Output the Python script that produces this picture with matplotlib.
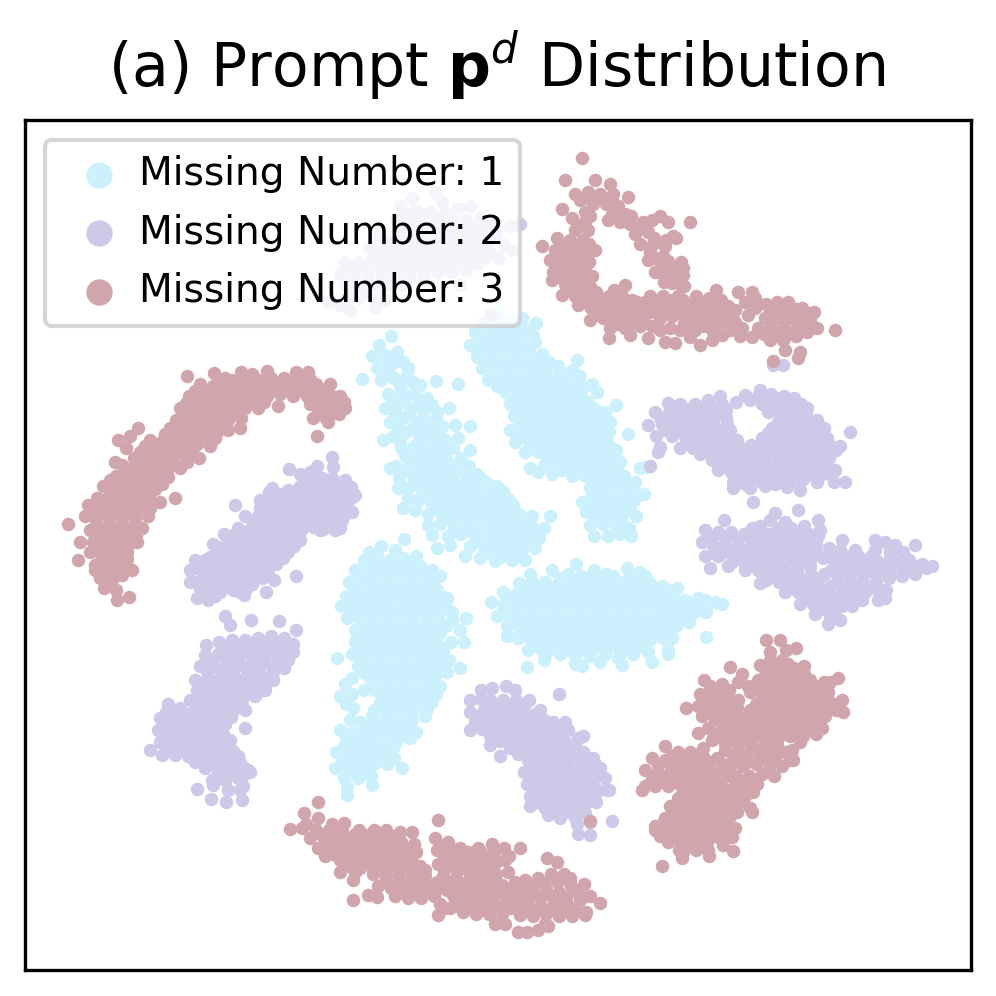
import matplotlib
matplotlib.use('Agg')
import numpy as np
import matplotlib.pyplot as plt

cyan_upper_left = [(391,336),(379,345),(372,356),(385,355),(397,352),(362,379),(377,368),(390,366),(403,362),(381,380),(394,378),(407,375),(420,385),
    (436,381),(458,384),(388,394),(401,390),(414,394),(427,398),(385,408),(398,404),(411,408),(424,410),(437,412),(449,408),(390,422),(403,418),(416,422),(429,424),(442,426),
    (393,436),(406,432),(419,436),(432,438),(445,440),(470,426),(401,448),(414,446),(427,450),(440,452),(453,448),(396,466),(409,460),(422,462),(435,464),(448,462),(461,458),
    (399,478),(412,474),(425,476),(438,478),(451,476),(464,472),(477,474),(408,488),(421,488),(434,490),(447,488),(460,486),(473,486),(486,482),(497,486),
    (418,500),(431,502),(444,500),(457,498),(470,498),(483,496),(496,496),(509,500),(428,514),(441,512),(454,510),(467,510),(480,508),(493,508),(506,510),(519,514),(532,516),(550,516),
    (440,524),(453,522),(466,522),(479,520),(492,520),(505,522),(518,524),(531,526),(544,528),(437,548),(448,536),(461,534),(474,534),(487,532),(500,534),(513,536),(526,538),(539,538),
    (470,546),(483,546),(496,546),(509,548),(522,550),(535,548),(499,558),(512,560),(525,560),
    (384,362),(396,361),(408,368),(386,372),(400,384),(413,382),(392,400),(405,397),(420,402),(432,405),(395,413),(409,414),(423,416),(436,419),(398,428),(412,429),(425,430),(438,432),(400,441),(420,443),(434,445),(447,447),(405,455),(418,454),(431,457),(444,456),(403,471),(416,468),(429,470),(442,470),(455,468),(469,466),(414,481),(428,483),(441,484),(454,482),(467,480),(480,478),(424,495),(437,496),(450,494),(463,492),(476,491),(490,490),(503,492),(434,507),(447,506),(460,504),(473,503),(486,502),(500,503),(513,505),(447,518),(460,516),(473,515),(486,514),(499,515),(512,517),(525,520),(454,529),(467,528),(480,526),(493,527),(506,528),(519,531),(532,532),(476,540),(490,539),(503,541),(516,543),(529,544),(490,552),(505,554),(518,555),
    (390,468),(403,508),(408,498),(415,510),(428,525),(432,535),(450,545),(465,556),(480,558),(495,561),(455,425),(458,438),(470,450),(383,440),(398,488)]
cyan_upper_right = [(498,310),(483,322),(496,320),(509,322),(522,318),(475,332),(488,332),(501,332),(514,332),(527,330),(536,323),(470,345),(483,344),(496,344),(509,344),(522,344),(535,342),
    (477,357),(490,356),(503,356),(516,356),(529,356),(542,354),(545,368),(482,368),(495,368),(508,368),(521,368),(534,368),(558,366),(577,360),(488,380),(501,380),(514,380),(527,380),(540,380),(553,380),(566,378),(580,376),
    (505,392),(518,392),(531,392),(544,392),(557,392),(570,392),(583,388),(592,384),(510,404),(523,404),(536,404),(549,404),(562,404),(575,404),(588,402),(597,392),
    (514,416),(527,416),(540,416),(553,416),(566,416),(579,416),(592,414),(605,412),(616,405),(510,430),(523,428),(536,428),(549,428),(562,428),(575,428),(588,428),(601,426),(610,422),(628,434),
    (515,442),(528,440),(541,440),(554,440),(567,440),(580,440),(593,440),(606,440),(525,452),(538,452),(551,452),(564,452),(577,452),(590,452),(603,452),(616,450),(545,464),(558,464),(571,464),(584,464),(597,464),(610,464),(620,462),(646,467),
    (530,468),(538,472),(552,474),(572,476),(585,476),(598,476),(611,476),(624,476),(640,468),(590,488),(603,488),(616,488),(629,488),(639,495),(582,502),(595,500),(608,500),(621,500),(634,500),(644,494),
    (586,512),(599,512),(612,512),(625,512),(636,516),(590,525),(603,524),(616,526),(629,528),(594,536),(608,536),(620,534),(631,536),
    (490,327),(503,326),(516,327),(480,338),(494,338),(507,338),(520,338),(533,336),(477,350),(490,350),(503,350),(516,350),(529,350),(484,362),(497,362),(510,362),(523,362),(536,362),(549,362),(494,374),(507,374),(520,374),(533,374),(546,374),(559,372),(572,370),(497,386),(510,386),(523,386),(536,386),(549,386),(562,386),(575,385),(516,398),(529,398),(542,398),(555,398),(568,398),(581,396),(516,410),(529,410),(542,410),(555,410),(568,410),(581,410),(594,408),(520,422),(533,422),(546,422),(559,422),(572,422),(585,421),(598,420),(518,435),(531,434),(544,434),(557,434),(570,434),(583,434),(596,434),(609,432),(531,446),(544,446),(557,446),(570,446),(583,446),(596,446),(609,446),(548,458),(561,458),(574,458),(587,458),(600,458),(613,456),(562,470),(578,470),(591,470),(604,470),(617,470),(596,482),(609,482),(622,482),(635,482),(592,494),(602,494),(615,494),(628,494),(593,506),(606,506),(618,506),(630,507),(596,518),(609,518),(621,520)]
cyan_center_left = [(404,539),(381,546),(395,550),(369,552),(364,560),(377,556),(390,560),(403,558),(416,556),(355,570),(368,568),(381,570),(394,570),(407,568),(420,566),(432,570),
    (349,582),(362,580),(375,582),(388,582),(401,580),(414,580),(427,580),(440,576),(346,596),(359,594),(372,594),(385,594),(398,594),(411,592),(424,592),(437,590),(447,598),
    (341,606),(354,606),(367,606),(380,606),(393,606),(406,604),(419,604),(432,604),(445,604),(347,618),(360,618),(373,618),(386,618),(399,618),(412,618),(425,616),(438,616),(452,612),(337,658),
    (355,630),(368,630),(381,630),(394,630),(407,630),(420,630),(433,628),(446,626),(466,618),(355,642),(368,642),(381,642),(394,642),(407,642),(420,642),(433,640),(460,630),
    (352,654),(365,654),(378,654),(391,654),(404,654),(417,654),(430,652),(443,650),(464,642),(358,666),(371,666),(384,666),(397,666),(410,666),(423,664),(436,664),(449,660),(460,668),
    (345,684),(352,678),(370,678),(383,678),(396,678),(409,678),(422,678),(435,676),(447,672),(340,696),(352,694),(375,690),(388,690),(401,690),(414,690),(427,690),(440,686),(353,708),(380,702),(393,702),(406,702),(419,702),(432,702),(425,716),
    (372,716),(385,714),(398,714),(411,714),(350,720),(340,730),(352,733),(366,728),(379,728),(392,726),(405,726),(416,732),(345,745),(358,742),(371,740),(384,740),(397,740),(410,738),(336,752),(349,756),(362,754),(375,752),(388,752),
    (335,768),(348,768),(361,766),(374,764),(387,764),(402,768),(344,778),(358,778),(371,776),(365,773),(347,787),(347,795),(372,785),
    (372,562),(385,564),(398,564),(411,562),(360,575),(374,575),(387,576),(400,574),(413,574),(426,574),(354,588),(368,588),(381,588),(394,588),(407,586),(420,586),(433,584),(352,600),(365,600),(378,600),(391,600),(404,598),(417,598),(430,598),(443,597),(350,612),(363,612),(376,612),(389,612),(402,611),(415,611),(428,610),(441,610),(361,624),(374,624),(387,624),(400,624),(413,624),(426,622),(439,622),(452,620),(362,636),(375,636),(388,636),(401,636),(414,636),(427,634),(440,633),(360,648),(373,648),(386,648),(399,648),(412,648),(425,646),(438,645),(451,642),(364,660),(377,660),(390,660),(403,660),(416,660),(429,658),(442,656),(364,672),(377,672),(390,672),(403,672),(416,672),(429,670),(442,668),(376,684),(389,684),(402,684),(415,684),(428,684),(364,690),(384,696),(397,696),(410,696),(423,696),(436,694),(346,704),(374,710),(388,708),(401,708),(414,708),(427,709),(360,722),(373,722),(386,720),(399,720),(412,720),(346,738),(359,735),(372,734),(385,733),(398,733),(411,731),(342,760),(355,749),(368,747),(381,746),(394,746),(355,760),(368,760),(381,758),(394,758),(352,773),(364,770)]
cyan_right = [(576,564),(552,570),(568,574),(581,576),(594,570),(606,574),(627,568),(640,572),(530,574),(519,583),(532,582),(545,582),(558,584),(571,586),(584,586),(597,584),(610,582),(623,582),(636,582),(649,582),(662,586),(677,588),
    (503,592),(516,594),(529,594),(542,594),(555,594),(568,596),(581,598),(594,596),(607,596),(620,594),(633,594),(646,594),(659,594),(672,594),(685,600),(698,598),
    (491,602),(504,604),(517,606),(530,606),(543,606),(556,606),(569,608),(582,608),(595,608),(608,606),(621,606),(634,606),(647,606),(660,606),(673,606),(686,608),(699,606),(715,602),(722,604),
    (497,616),(510,616),(523,618),(536,618),(549,618),(562,618),(575,620),(588,620),(601,618),(614,618),(627,618),(640,618),(653,618),(666,616),(679,616),(692,614),(706,612),
    (507,626),(520,630),(533,630),(546,630),(559,630),(572,632),(585,632),(598,630),(611,630),(624,630),(637,630),(650,628),(663,628),(676,626),(689,622),(706,637),
    (507,636),(518,638),(533,642),(546,642),(559,642),(572,644),(585,644),(598,642),(611,642),(624,642),(637,642),(650,640),(663,638),(672,638),
    (528,650),(545,654),(560,654),(575,656),(590,656),(605,654),(620,654),(633,654),(648,652),(668,650),(527,667),(544,660),(575,664),(582,666),(600,662),(622,665),(618,658),(652,662),(668,654),
    (560,578),(575,580),(588,578),(600,578),(613,576),(630,576),(645,576),(525,588),(538,588),(551,588),(564,590),(577,592),(590,590),(603,590),(616,588),(629,588),(642,588),(655,588),(668,590),(510,599),(523,600),(536,600),(549,600),(562,600),(575,602),(588,602),(601,602),(614,600),(627,600),(640,600),(653,600),(666,600),(679,602),(692,602),(705,600),(503,610),(516,611),(529,612),(542,612),(555,612),(568,614),(581,614),(594,614),(607,612),(620,612),(633,612),(646,612),(659,612),(672,611),(685,612),(698,610),(514,623),(527,624),(540,624),(553,624),(566,626),(579,626),(592,625),(605,624),(618,624),(631,624),(644,624),(657,623),(670,622),(683,620),(526,636),(539,636),(552,636),(565,638),(578,638),(591,637),(604,636),(617,636),(630,636),(643,635),(656,634),(669,632),(540,648),(553,648),(566,650),(579,650),(592,650),(605,648),(618,648),(631,648),(644,647)]

purple_hidden = [(435,192),(412,198),(442,202),(400,206),(416,210),(430,212),(445,214),(458,208),(470,206),(396,220),(410,222),(424,224),(438,224),(452,222),(466,220),(480,218),(494,224),
    (380,236),(398,234),(412,236),(426,236),(440,236),(454,234),(468,232),(482,232),(496,234),(510,226),(370,248),(384,248),(398,248),(412,248),(426,248),(440,246),(454,246),(468,246),(482,246),(504,245),(520,224),
    (345,262),(358,262),(372,260),(386,260),(400,260),(414,260),(428,260),(442,258),(456,258),(470,258),(484,258),(498,258),(512,250),
    (340,274),(354,274),(368,274),(382,272),(396,272),(410,272),(424,272),(438,272),(452,272),(466,270),(346,286),(360,286),(374,286),(388,284),(402,284),(460,285),(345,298),(358,298),(372,296),(350,286),(328,302),(340,305),(350,310),(375,308),(385,300),(490,315),
    (405,214),(420,216),(436,218),(452,215),(403,228),(417,230),(431,230),(445,229),(459,227),(473,226),(487,226),(390,242),(405,242),(419,242),(433,242),(447,240),(461,240),(475,239),(489,240),(377,254),(391,254),(405,254),(419,254),(433,253),(447,252),(461,252),(475,252),(489,252),(351,268),(365,267),(379,266),(393,266),(407,266),(421,266),(435,265),(449,265),(463,264),(477,264),(353,280),(367,280),(381,279),(395,278),(409,278),(423,278),(352,292),(366,292),(380,290)]
purple_upper_right = [(773,365),(760,390),(720,396),(745,395),(758,396),(771,394),(784,396),(708,400),(722,404),(736,402),(762,404),(775,404),(788,404),(801,404),(668,403),(680,404),(695,404),
    (655,412),(668,414),(681,414),(694,414),(707,414),(720,414),(780,416),(793,416),(806,414),(648,425),(662,424),(675,424),(688,424),(701,426),(714,426),(727,424),(772,428),(785,428),(798,426),(811,426),(824,428),
    (656,436),(672,436),(685,436),(698,436),(711,436),(724,436),(737,440),(762,438),(775,438),(788,438),(801,438),(814,438),(827,438),(850,432),(660,447),(680,448),(693,448),(706,448),(719,448),(732,450),(745,450),(758,450),(771,450),(784,450),(797,450),(810,450),(823,450),(836,450),(650,466),(658,452),
    (712,460),(725,460),(738,460),(751,460),(764,460),(777,462),(790,462),(803,462),(816,462),(829,458),(840,446),(718,470),(731,472),(744,472),(757,472),(770,472),(783,474),(796,474),(809,474),(822,474),(835,470),(845,482),(834,482),
    (733,482),(745,484),(762,482),(775,484),(788,484),(817,482),(830,474),(733,488),(750,488),(765,486),(787,487),(800,490),(800,480),
    (750,400),(768,400),(781,398),(794,398),(674,409),(687,409),(700,408),(713,408),(726,410),(768,412),(781,410),(794,410),(807,408),(661,419),(674,419),(687,419),(700,420),(713,420),(726,418),(778,422),(791,422),(804,420),(817,420),(665,430),(678,430),(691,430),(704,431),(717,431),(730,430),(768,433),(781,433),(794,432),(807,432),(820,432),(686,442),(699,442),(712,442),(725,443),(738,445),(751,445),(764,444),(777,444),(790,444),(803,444),(816,444),(829,444),(700,454),(713,454),(726,454),(739,455),(752,455),(765,455),(778,456),(791,456),(804,456),(817,456),(830,454),(722,465),(735,466),(748,466),(761,466),(774,467),(787,468),(800,468),(813,468),(826,466),(738,477),(751,478),(764,478),(777,479),(790,479),(803,479),(816,478)]
purple_lower_right = [(753,502),(775,513),(724,520),(798,510),(818,520),(752,528),(770,520),(785,522),(705,530),(718,532),(731,532),(744,534),(757,534),(770,534),(783,534),(796,534),(809,534),(820,530),(702,542),(712,544),(725,544),(738,546),(751,546),(764,546),(777,546),(790,546),(803,546),(816,544),(818,536),
    (705,556),(718,556),(725,552),(738,558),(751,558),(764,558),(777,558),(790,558),(803,558),(816,552),(829,548),(842,540),(875,540),(710,568),(728,566),(745,570),(758,570),(771,570),(784,570),(797,570),(810,566),(832,558),(845,556),(858,556),(871,556),(885,542),(895,545),(915,545),
    (766,580),(779,582),(792,582),(805,580),(818,580),(831,570),(844,568),(857,568),(870,568),(883,566),(896,562),(909,560),(922,564),(932,566),(785,592),(798,592),(811,592),(824,592),(837,582),(850,580),(863,582),(876,582),(889,578),(902,576),(915,574),(926,568),
    (800,604),(813,604),(826,604),(839,596),(852,594),(865,592),(878,590),(886,590),(815,614),(830,616),(842,606),(852,606),(828,624),(840,620),(775,548),(763,575),(878,600),(885,598),(862,600),(760,583),
    (760,526),(778,528),(791,528),(804,526),(712,537),(725,538),(738,539),(751,540),(764,540),(777,540),(790,540),(803,540),(816,538),(715,550),(731,552),(744,552),(757,552),(770,552),(783,552),(796,552),(809,552),(840,550),(855,550),(875,550),(890,552),(903,552),(732,562),(745,564),(758,564),(771,564),(784,564),(797,564),(810,560),(823,558),(838,562),(851,562),(864,562),(877,561),(890,558),(903,568),(916,567),(772,576),(785,576),(798,576),(811,574),(824,574),(837,575),(850,574),(863,575),(876,575),(889,572),(902,569),(791,587),(804,586),(817,586),(830,586),(843,588),(856,588),(869,588),(806,598),(819,598),(832,598),(845,600),(858,598),(820,609),(835,609)]
purple_left_upper = [(332,457),(333,467),(289,469),(300,474),(310,472),(317,466),(322,478),(288,490),(300,486),(313,484),(326,484),(338,486),(351,487),(355,495),(269,492),(272,488),(260,500),(273,502),(286,500),(299,498),(312,498),(325,498),(338,498),(351,498),(235,505),
    (260,508),(245,516),(258,516),(271,514),(284,512),(297,510),(310,510),(323,510),(336,510),(349,510),(238,528),(251,528),(264,526),(277,524),(290,522),(303,522),(316,522),(329,520),(342,520),(352,512),(224,534),(229,540),(242,540),(255,538),(268,536),(281,536),(294,534),(320,530),(335,530),(323,529),(340,528),
    (213,544),(216,553),(229,552),(242,552),(255,550),(268,548),(281,548),(294,546),(296,530),(301,530),(195,560),(205,560),(218,564),(231,564),(244,562),(257,560),(270,560),(283,558),(296,576),
    (190,570),(190,582),(203,576),(216,576),(229,574),(242,574),(255,572),(268,570),(200,588),(213,588),(226,586),(239,584),(252,584),(274,580),(262,578),(197,598),(208,600),(215,596),(240,592),(266,592),(244,595),
    (306,480),(319,478),(332,478),(345,480),(280,494),(293,492),(306,492),(319,491),(332,491),(345,492),(266,507),(279,507),(292,505),(305,504),(318,504),(331,504),(344,504),(253,522),(266,520),(279,518),(292,516),(305,516),(318,516),(331,515),(344,515),(235,534),(248,534),(261,532),(274,530),(287,528),(300,528),(313,527),(326,526),(222,547),(235,546),(248,545),(261,543),(274,542),(287,541),(300,540),(210,557),(223,558),(236,557),(249,556),(262,554),(275,553),(288,552),(198,568),(211,570),(224,569),(237,568),(250,566),(263,565),(276,564),(197,582),(210,582),(223,580),(236,579),(249,578),(207,593),(220,592),(233,590),(246,589)]
purple_left_lower = [(225,616),(230,625),(251,620),(279,621),(296,630),(206,645),(219,642),(232,640),(245,640),(258,638),(271,636),(284,638),(205,655),(218,654),(231,652),(244,652),(257,650),(270,650),(283,650),(293,652),(293,644),
    (200,666),(213,666),(226,664),(239,664),(252,662),(265,662),(278,660),(288,660),(195,680),(208,678),(221,676),(234,676),(247,674),(260,674),(273,672),(284,668),(197,690),(210,690),(223,688),(236,688),(249,686),(262,684),(273,680),(190,700),(203,700),(216,700),(229,700),(242,700),(255,696),(265,690),
    (168,704),(180,708),(193,712),(206,712),(219,712),(232,712),(245,710),(160,718),(173,718),(186,720),(199,722),(212,722),(225,722),(245,728),(225,724),(158,730),(171,730),(184,732),(197,734),(210,734),(223,734),(150,750),(160,742),(173,742),(186,744),(199,746),(212,746),(225,746),
    (162,755),(175,755),(188,756),(201,758),(214,758),(227,756),(238,756),(248,770),(240,762),(205,768),(218,768),(231,768),(244,768),(212,780),(225,780),(238,778),(250,772),(213,785),(228,790),(197,789),(240,790),(242,800),(211,799),(226,802),(243,786),
    (226,646),(239,646),(252,645),(265,644),(278,644),(212,660),(225,658),(238,658),(251,656),(264,656),(277,655),(207,672),(220,670),(233,670),(246,668),(259,668),(272,666),(202,685),(215,684),(228,682),(241,681),(254,680),(267,678),(208,696),(221,695),(234,694),(247,693),(260,690),(186,714),(199,706),(212,706),(225,706),(238,706),(166,712),(179,712),(192,716),(205,717),(218,717),(231,717),(166,725),(179,725),(192,727),(205,728),(218,728),(165,737),(178,738),(191,739),(204,740),(217,740),(230,740),(168,749),(181,750),(194,751),(207,752),(220,752),(233,751),(195,762),(211,763),(224,763),(237,763),(218,774),(231,774),(244,774)]
purple_bottom = [(481,690),(492,688),(506,686),(515,690),(540,710),(481,699),(470,700),(490,700),(503,700),(516,700),(529,700),(470,712),(483,712),(496,712),(509,712),(522,712),(535,714),(559,694),
    (475,722),(488,724),(501,724),(514,724),(527,724),(540,726),(553,722),(565,722),(470,730),(490,736),(503,736),(516,736),(529,736),(542,738),(555,736),(568,730),(490,745),(510,748),(523,748),(536,750),(549,750),(562,748),(575,744),(583,736),
    (500,756),(528,760),(541,762),(554,762),(567,760),(580,758),(593,758),(524,772),(537,774),(550,774),(563,772),(576,770),(589,770),(600,768),(527,784),(540,786),(553,786),(566,784),(579,782),(592,782),(605,778),(609,790),(598,790),
    (530,796),(543,798),(556,798),(569,796),(582,794),(595,794),(607,790),(530,806),(545,808),(558,808),(571,806),(584,806),(596,802),(548,815),(560,818),(575,818),(590,822),(577,824),(578,834),(590,835),(585,813),(564,810),
    (485,706),(498,706),(511,706),(524,706),(479,717),(492,718),(505,718),(518,718),(531,718),(544,720),(482,729),(495,730),(508,730),(521,730),(534,730),(547,732),(560,729),(500,741),(513,742),(526,742),(539,744),(552,744),(565,742),(578,738),(518,754),(531,755),(544,756),(557,756),(570,754),(583,752),(530,767),(543,768),(556,768),(569,766),(582,764),(595,764),(532,779),(545,780),(558,780),(571,778),(584,776),(597,776),(534,791),(547,792),(560,792),(573,790),(586,788),(538,802),(551,803),(564,802),(577,800),(590,800),(555,812),(570,812),(583,812)]

pink_top_right = [(582,158),(565,180),(595,180),(610,184),(588,192),(575,194),(600,194),(613,194),(628,197),(580,200),(593,204),(606,204),(618,206),(585,212),(612,214),(625,214),(562,209),(630,224),(643,222),
    (572,218),(585,222),(575,230),(588,230),(608,220),(620,222),(635,234),(648,232),(660,216),(652,220),(557,238),(570,240),(583,240),(640,244),(653,244),(665,246),(555,250),(568,252),(581,252),(594,250),(650,252),(663,256),(676,238),(668,222),(690,222),(673,236),
    (550,260),(563,262),(576,262),(589,262),(595,250),(648,260),(661,266),(672,268),(542,246),(553,272),(566,272),(579,274),(592,276),(655,272),(668,278),(681,262),(683,268),(552,280),(565,284),(578,286),(591,288),(664,282),(683,275),(684,286),(665,268),
    (562,295),(575,296),(588,298),(601,298),(614,290),(625,285),(632,300),(650,296),(663,296),(678,296),(696,296),(716,290),(682,286),(578,305),(591,308),(604,308),(617,308),(630,308),(643,308),(656,304),(669,306),(682,306),(695,306),(708,304),(721,300),(738,292),(752,292),
    (590,320),(603,318),(616,320),(629,318),(642,318),(672,316),(685,318),(698,318),(711,314),(724,312),(755,308),(766,304),(777,302),(788,302),(802,308),(814,312),(610,328),(625,328),(640,326),(652,326),(690,326),(704,326),(720,322),(765,318),(778,316),(791,316),(804,318),(817,328),
    (609,338),(648,338),(665,342),(680,330),(695,330),(712,330),(740,336),(758,328),(771,328),(784,328),(797,328),(810,322),(835,330),(690,337),(675,343),(752,337),(770,340),(783,340),(796,336),(807,332),(785,350),(800,352),(798,358),(773,361),
    (588,198),(600,199),(612,200),(578,225),(590,216),(618,214),(631,216),(642,228),(564,246),(576,246),(589,244),(654,238),(666,240),(558,256),(570,257),(583,257),(655,258),(668,261),(559,267),(572,267),(585,268),(660,272),(672,276),(558,276),(571,279),(584,281),(672,283),(570,290),(583,291),(596,292),(609,296),(622,296),(645,302),(657,301),(670,300),(683,300),(696,300),(709,298),(585,302),(598,303),(611,302),(624,302),(637,302),(598,313),(611,314),(624,313),(637,313),(650,312),(663,311),(676,311),(689,312),(702,311),(715,310),(728,306),(770,310),(783,309),(796,309),(809,313),(618,324),(631,323),(644,322),(684,323),(697,323),(710,321),(771,322),(784,322),(797,322),(810,318),(764,334),(777,334),(790,334),(803,328),
    (725,318),(735,310),(745,302),(748,315),(735,322),(742,328),(755,298),(730,330),(722,335),(712,340),(700,345),(660,330),(670,328),(630,335),(660,318)]
pink_left_arc = [(214,373),(187,376),(241,372),(252,374),(267,371),(296,372),(308,372),(225,378),(200,384),(213,386),(226,388),(239,384),(252,386),(265,384),(278,384),(291,384),(304,384),(316,384),(330,384),(189,396),(202,398),(215,398),(228,398),(241,396),(254,396),(267,396),(280,394),(293,396),(307,396),(318,396),(332,396),(340,396),
    (180,408),(193,410),(206,410),(219,410),(232,408),(245,408),(258,408),(278,406),(310,404),(320,408),(333,408),(345,408),(176,420),(189,422),(202,422),(215,420),(228,420),(241,418),(313,418),(326,418),(339,414),(317,436),(328,422),(138,428),(165,434),(178,434),(191,434),(204,434),(217,432),(228,430),(240,428),
    (118,440),(130,436),(145,446),(158,446),(171,446),(184,446),(197,444),(210,446),(126,448),(134,458),(147,458),(160,458),(173,458),(186,456),(199,458),(115,462),(128,470),(141,470),(154,470),(167,470),(180,468),(155,465),(110,480),(123,482),(136,482),(149,482),(162,484),(175,498),(103,486),
    (97,498),(110,494),(123,494),(136,494),(149,496),(160,502),(150,508),(88,505),(100,506),(113,506),(126,506),(139,506),(85,516),(96,518),(109,518),(122,518),(135,518),(148,516),(90,530),(103,530),(116,530),(129,530),(142,528),(137,542),(68,524),(80,542),(93,542),(106,542),(119,542),(132,542),
    (90,552),(103,554),(116,554),(127,552),(95,565),(108,566),(121,564),(132,570),(128,568),(100,578),(113,578),(122,575),(104,588),(116,590),(129,597),(117,600),(95,570),(78,560),
    (219,380),(232,380),(245,380),(258,380),(271,378),(284,378),(297,378),(310,379),(323,390),(195,391),(208,392),(221,392),(234,391),(247,391),(260,391),(273,390),(286,390),(299,390),(312,390),(186,403),(199,404),(212,404),(225,404),(238,402),(251,402),(264,402),(315,402),(328,402),(341,402),(183,415),(196,416),(209,416),(222,415),(235,414),(318,413),(331,413),(344,402),(170,428),(183,428),(196,428),(209,427),(222,426),(150,440),(163,440),(176,440),(189,440),(202,439),(215,438),(140,452),(153,452),(166,452),(179,452),(192,451),(122,465),(135,464),(148,464),(161,464),(174,463),(187,462),(116,476),(129,476),(142,476),(155,476),(168,477),(116,488),(129,488),(142,488),(155,489),(103,500),(116,500),(129,500),(142,500),(94,511),(107,512),(120,512),(133,512),(146,511),(96,524),(109,524),(122,524),(135,524),(97,536),(110,536),(123,536),(136,535),(96,548),(109,548),(122,548),(101,560),(114,560),(127,559),(106,572),(119,571),(110,584)]
pink_bottom = [(318,802),(304,813),(290,829),(306,824),(318,818),(332,824),(302,828),(344,823),(359,830),(374,830),(386,830),(400,832),(412,832),(310,838),(323,836),(336,836),(349,838),(362,840),(375,840),(388,840),(401,842),(414,844),(438,820),
    (318,848),(331,848),(344,848),(357,850),(370,852),(383,852),(396,852),(409,854),(435,838),(448,842),(460,848),(478,848),(492,844),(325,856),(340,860),(353,862),(366,864),(379,864),(392,864),(405,866),(420,866),(437,850),(450,852),(463,858),(476,856),(489,858),(504,848),(520,848),
    (340,872),(355,872),(373,874),(386,876),(399,876),(412,876),(425,876),(438,864),(451,864),(464,868),(477,868),(490,868),(505,860),(353,880),(378,886),(391,888),(404,888),(417,888),(430,888),(443,876),(456,878),(469,880),(482,880),(495,880),(508,872),(547,858),(557,862),(570,878),
    (353,900),(368,895),(377,897),(395,896),(408,898),(421,898),(434,896),(447,890),(460,890),(473,892),(486,892),(499,890),(512,890),(525,880),(538,878),(551,874),(564,874),(420,884),(440,904),(455,900),(468,902),(481,904),(494,904),(507,902),(520,892),(533,892),(546,890),(559,892),(572,888),(584,884),
    (438,915),(450,908),(463,912),(476,914),(489,914),(502,914),(515,904),(528,904),(541,906),(554,904),(567,904),(580,900),(600,903),(590,896),(495,924),(505,924),(520,915),(533,916),(546,914),(559,916),(572,916),(586,912),(538,930),(518,932),(527,932),(545,924),(548,926),(585,915),
    (316,830),(329,830),(342,830),(355,834),(368,835),(381,835),(394,836),(325,842),(338,842),(351,844),(364,846),(377,846),(390,846),(403,848),(416,852),(442,846),(455,850),(468,852),(481,852),(494,852),(333,854),(346,854),(359,856),(372,858),(385,858),(398,858),(411,860),(444,858),(457,860),(470,862),(483,862),(496,862),(509,856),(347,866),(360,868),(373,868),(386,870),(399,870),(412,870),(425,870),(444,870),(457,871),(470,874),(483,874),(496,874),(385,882),(398,882),(411,882),(424,882),(437,882),(450,883),(463,885),(476,886),(489,886),(502,885),(515,882),(410,892),(423,892),(436,890),(453,895),(466,896),(479,898),(492,898),(505,896),(518,898),(531,886),(544,884),(557,882),(570,883),(445,908),(458,906),(471,908),(484,909),(497,909),(510,908),(523,910),(536,910),(549,910),(562,910),(575,910),(527,898),(540,898),(553,898),(566,898),(579,894)]
pink_right = [(766,640),(780,640),(786,650),(770,652),(782,660),(796,648),(730,667),(760,665),(768,668),(781,670),(794,668),(804,666),(742,674),(738,682),(748,686),(758,680),(771,680),(784,680),(797,680),(810,680),(704,680),(710,686),(722,684),(838,678),(824,682),(830,682),
    (700,694),(712,696),(725,696),(738,700),(750,692),(763,692),(776,692),(789,692),(802,692),(815,692),(828,692),(842,700),(843,712),(686,708),(698,706),(711,708),(724,708),(737,708),(756,704),(769,704),(782,704),(795,704),(808,704),(821,704),(834,704),(702,716),(715,720),(728,720),(741,718),(760,716),(773,716),(786,716),(799,716),(812,716),(825,716),(836,710),
    (720,732),(733,732),(746,732),(759,728),(772,728),(785,728),(798,728),(811,728),(822,728),(698,733),(712,740),(725,744),(738,744),(751,740),(764,740),(777,740),(790,736),(803,736),(816,734),(733,756),(746,756),(759,752),(772,752),(785,752),(800,742),(773,746),
    (665,746),(678,752),(690,752),(703,748),(652,758),(665,760),(678,762),(691,762),(704,758),(717,758),(730,766),(743,766),(756,764),(769,764),(782,766),(645,770),(658,772),(671,772),(684,774),(697,772),(710,770),(723,770),(736,776),(749,776),(762,774),(774,776),(792,750),(793,760),(790,760),
    (645,786),(655,786),(668,786),(681,786),(694,784),(707,782),(720,782),(733,788),(746,786),(757,784),(642,790),(678,798),(691,798),(704,796),(717,794),(730,796),(745,796),(753,792),(670,806),(683,810),(696,808),(709,806),(722,806),(735,806),(752,812),(655,826),(665,818),(678,820),(691,820),(704,818),(717,818),(730,816),(750,808),
    (655,830),(668,830),(681,832),(694,830),(707,830),(720,828),(735,828),(660,836),(668,842),(681,842),(694,842),(707,842),(720,838),(683,852),(696,850),(708,850),(679,850),(682,858),(662,866),(709,856),(732,837),(723,845),(733,851),
    (770,660),(776,664),(788,664),(765,675),(778,675),(791,674),(804,674),(716,690),(729,690),(755,686),(768,686),(781,686),(794,686),(807,686),(820,686),(706,700),(719,702),(732,702),(762,698),(775,698),(788,698),(801,698),(814,698),(827,698),(707,712),(720,714),(733,714),(750,710),(763,710),(776,710),(789,710),(802,710),(815,710),(828,710),(726,726),(739,726),(752,722),(765,722),(778,722),(791,722),(804,722),(817,722),(708,728),(718,736),(731,738),(744,738),(757,734),(770,734),(783,734),(796,732),(672,756),(685,757),(698,755),(725,750),(738,750),(751,746),(764,746),(777,746),(658,765),(671,766),(684,768),(697,767),(710,764),(723,764),(736,760),(749,760),(762,758),(775,758),(652,778),(665,779),(678,780),(691,778),(704,777),(717,776),(730,776),(743,782),(756,780),(769,770),(684,792),(697,790),(710,789),(723,788),(736,792),(749,790),(676,804),(689,804),(702,802),(715,800),(728,801),(741,802),(672,813),(685,815),(698,814),(711,812),(724,812),(737,812),(662,824),(675,826),(688,826),(701,824),(714,824),(727,822),(673,836),(686,836),(699,836),(712,836),(725,834),(690,846),(703,846)]

series_labels = ['Missing Number: 1', 'Missing Number: 2', 'Missing Number: 3']
colors = ['#CDF1FC', '#CDC9E8', '#D0A5AC']

missing_1 = cyan_upper_left + cyan_upper_right + cyan_center_left + cyan_right
missing_2 = (purple_hidden + purple_upper_right + purple_lower_right + purple_left_upper
             + purple_left_lower + purple_bottom + [(783, 365), (612, 821)])
missing_3 = pink_top_right + pink_left_arc + pink_bottom + pink_right + [(590, 821)]

fig = plt.figure(figsize=(3.32, 3.32), dpi=300)
ax = fig.add_axes([25 / 996, 1 - 970 / 996, 946 / 996, 850 / 996])

for pts, label, color in zip([missing_1, missing_2, missing_3], series_labels, colors):
    pts = np.array(pts)
    ax.scatter(pts[:, 0], pts[:, 1], s=10.5, color=color, linewidths=0, label=label)

ax.set_xlim(25, 971)
ax.set_ylim(970, 120)
ax.set_xticks([])
ax.set_yticks([])
ax.set_title(r'(a) Prompt $\mathbf{p}^{d}$ Distribution', fontsize=14.4, pad=8, x=0.4985)
ax.legend(loc='upper left', fontsize=9.4, markerscale=1.95, handletextpad=0.0, labelspacing=0.52)

fig.savefig('out.png', dpi=300)
